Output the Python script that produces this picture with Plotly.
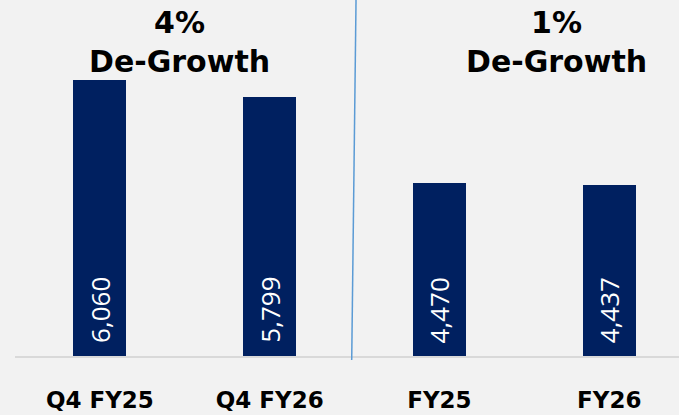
import plotly.graph_objects as go

categories = ["Q4 FY25", "Q4 FY26", "FY25", "FY26"]
values = [6060, 5799, 4470, 4437]
growth_titles = ["4%<br>De-Growth", "1%<br>De-Growth"]

BAR_COLOR = "#002060"
BG = "#F2F2F2"
Y_MIN, Y_MAX = 1806, 7293

fig = go.Figure()
fig.add_trace(go.Bar(
    x=list(range(len(categories))),
    y=values,
    width=0.312,
    marker=dict(color=BAR_COLOR, line=dict(width=0)),
    hoverinfo="skip",
))

for i, v in enumerate(values):
    fig.add_annotation(
        x=i, y=Y_MIN, xref="x", yref="y",
        text=f"{v:,}", textangle=-90, showarrow=False,
        xanchor="center", yanchor="bottom", yshift=11,
        font=dict(family="Open Sans", size=26, color="white"),
    )

for xp, t in zip([0.247, 0.815], growth_titles):
    fig.add_annotation(
        x=xp, y=0.883, xref="paper", yref="paper",
        text=f"<b>{t}</b>", showarrow=False,
        xanchor="center", yanchor="middle",
        font=dict(family="DejaVu Sans", size=30, color="black"),
    )

fig.add_shape(type="line", xref="paper", yref="paper",
              x0=0.5136, y0=1.0, x1=0.5071, y1=-0.011,
              line=dict(color="#5B9BD5", width=1.5))

fig.update_layout(
    width=679, height=415,
    margin=dict(l=14.5, r=0, t=0, b=59),
    paper_bgcolor=BG, plot_bgcolor=BG,
    showlegend=False,
    bargap=0,
)
fig.update_xaxes(
    range=[-0.5, 3.411],
    tickmode="array", tickvals=list(range(len(categories))),
    ticktext=[f"<b>{c}</b>" for c in categories],
    tickfont=dict(family="DejaVu Sans", size=23, color="black"),
    showgrid=False, zeroline=False,
    showline=True, linecolor="#D9D9D9", linewidth=2,
    ticks="", ticklabelstandoff=22,
)
fig.update_yaxes(range=[Y_MIN, Y_MAX], visible=False, showgrid=False)

fig.write_html("out.html",
               config={"displayModeBar": False, "staticPlot": True},
               post_script="document.body.style.margin='0';document.body.style.background='#F2F2F2';")
